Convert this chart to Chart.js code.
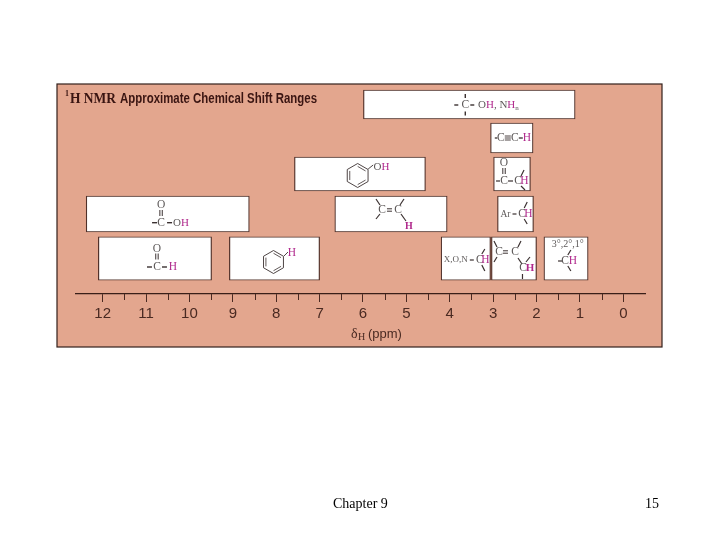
<!DOCTYPE html>
<html lang="en">
<head>
<meta charset="UTF-8" />
<title>1H NMR Approximate Chemical Shift Ranges</title>
<script src="https://cdn.jsdelivr.net/npm/chart.js@4.4.0/dist/chart.umd.min.js"></script>
<style>
  html, body { margin: 0; padding: 0; background: #fff; }
  canvas { display: block; }
</style>
</head>
<body>
<canvas id="nmr" width="720" height="540"></canvas>
<script>
// shift ranges in ppm, [high, low], one list per tier from the top of the plot
const tier1Ranges = [[5.99, 1.11]];
const tier2Ranges = [[3.06, 2.08]];
const tier3Ranges = [[7.58, 4.56], [2.99, 2.14]];
const tier4Ranges = [[12.38, 8.62], [6.65, 4.06], [2.9, 2.07]];
const tier5Ranges = [[12.1, 9.49], [9.08, 7.0], [4.2, 3.06], [3.04, 2.0], [1.83, 0.81]];

const tier1Groups = ["alcoholAmine"];
const tier2Groups = ["alkyne"];
const tier3Groups = ["phenol", "alphaCarbonyl"];
const tier4Groups = ["acid", "alkene", "benzylic"];
const tier5Groups = ["aldehyde", "aromatic", "heteroatom", "allylic", "alkyl"];

const tierLevels = [16.5, 50, 86, 126, 170.5];

const xTicks = [12, 11, 10, 9, 8, 7, 6, 5, 4, 3, 2, 1, 0];
const minorTicks = [11.5, 10.5, 9.5, 8.5, 7.5, 6.5, 5.5, 4.5, 3.5, 2.5, 1.5, 0.5];

const titleText = "Approximate Chemical Shift Ranges";
const footerLeft = "Chapter 9";
const footerRight = "15";

const PANEL = "#e3a68e";
const INK = "#4a2a22";
const BOND = "#3a3030";
const GREY = "#5c5858";
const PINK = "#b0288c";

const tierRanges = [tier1Ranges, tier2Ranges, tier3Ranges, tier4Ranges, tier5Ranges];
const tierGroups = [tier1Groups, tier2Groups, tier3Groups, tier4Groups, tier5Groups];
const tierThickness = [29, 30, 34, 36, 43.5];

const datasets = tierRanges.map((ranges, i) => ({
  data: ranges.map(r => ({ x: r, y: tierLevels[i] })),
  groups: tierGroups[i],
  backgroundColor: "#fff",
  borderColor: "#4f3029",
  borderWidth: 1.2,
  borderSkipped: false,
  barThickness: tierThickness[i],
  grouped: false,
}));

function line(ctx, x1, y1, x2, y2, w) {
  ctx.strokeStyle = BOND;
  ctx.lineWidth = w || 1;
  ctx.beginPath();
  ctx.moveTo(x1, y1);
  ctx.lineTo(x2, y2);
  ctx.stroke();
}

function text(ctx, s, x, y, color, size, bold) {
  ctx.font = (bold ? "bold " : "") + (size || 11.5) + 'px "Liberation Serif"';
  ctx.fillStyle = color || GREY;
  ctx.textAlign = "center";
  ctx.textBaseline = "middle";
  ctx.fillText(s, x, y);
}

// left aligned run of [text, color] pieces, returns the end x
function run(ctx, pieces, x, y, size) {
  ctx.font = (size || 11) + 'px "Liberation Serif"';
  ctx.textAlign = "left";
  ctx.textBaseline = "middle";
  pieces.forEach(p => {
    ctx.fillStyle = p[1];
    ctx.fillText(p[0], x, y);
    x += ctx.measureText(p[0]).width;
  });
  return x;
}

function ring(ctx, cx, cy, r) {
  const pts = [];
  for (let i = 0; i < 6; i++) {
    const a = -Math.PI / 2 + i * Math.PI / 3;
    pts.push([cx + r * Math.cos(a), cy + r * Math.sin(a)]);
  }
  for (let i = 0; i < 6; i++) {
    const p = pts[i], q = pts[(i + 1) % 6];
    line(ctx, p[0], p[1], q[0], q[1], 0.9);
    if (i % 2 === 0) {
      // inner double bond
      const k = 0.76;
      line(ctx, cx + (p[0] - cx) * k, cy + (p[1] - cy) * k, cx + (q[0] - cx) * k, cy + (q[1] - cy) * k, 0.8);
    }
  }
}

function dbl(ctx, x, y1, y2) {
  line(ctx, x - 1.2, y1, x - 1.2, y2, 1);
  line(ctx, x + 1.2, y1, x + 1.2, y2, 1);
}

const structures = {
  alcoholAmine(c) {
    line(c, -4, -10.5, -4, -6.5, 1.4);
    line(c, -4, 7, -4, 11, 1.4);
    line(c, -15, 0.5, -11, 0.5, 1.4);
    line(c, 1, 0.5, 5, 0.5, 1.4);
    text(c, "C", -4, 0.5);
    const end = run(c, [["O", GREY], ["H", PINK], [", N", GREY], ["H", PINK]], 8.7, 0.5);
    run(c, [["n", GREY]], end, 3.5, 7);
  },
  alkyne(c) {
    line(c, -17, 0, -14.5, 0, 1.3);
    text(c, "C", -11, 0);
    line(c, -7, -2, -1, -2, 0.9);
    line(c, -7, 0, -1, 0, 0.9);
    line(c, -7, 2, -1, 2, 0.9);
    text(c, "C", 3, 0);
    line(c, 7, 0, 11, 0, 1.3);
    text(c, "H", 15, 0, PINK);
  },
  phenol(c) {
    ring(c, -2.3, 1.5, 12);
    line(c, 8.2, -5, 13.2, -9, 0.9);
    run(c, [["O", GREY], ["H", PINK]], 13.5, -7);
  },
  alphaCarbonyl(c) {
    text(c, "O", -8, -11);
    dbl(c, -8, -6, 0);
    text(c, "C", -8, 7);
    line(c, -16, 7, -12, 7, 1.2);
    line(c, -4, 7, 1, 7, 1.2);
    text(c, "C", 6, 7);
    text(c, "H", 12.5, 7, PINK);
    line(c, 9, 2, 12, -4, 1.2);
    line(c, 9, 12, 13, 16, 1.2);
  },
  acid(c) {
    text(c, "O", -6.7, -9);
    dbl(c, -6.7, -4, 2);
    text(c, "C", -6.7, 8.7);
    line(c, -15.7, 8.7, -10.7, 8.7, 1.4);
    line(c, -0.7, 8.7, 4.3, 8.7, 1.4);
    run(c, [["O", GREY], ["H", PINK]], 5.3, 8.7);
  },
  alkene(c) {
    text(c, "C", -9, -4);
    line(c, -4, -5.2, 1, -5.2, 1);
    line(c, -4, -2.8, 1, -2.8, 1);
    text(c, "C", 7, -4);
    line(c, -15, -15, -11, -9, 1.2);
    line(c, -15, 5, -11, 0, 1.2);
    line(c, 13, -15, 9, -9, 1.2);
    line(c, 10, 0, 15, 7, 1.2);
    text(c, "H", 18, 12, PINK, 10, true);
  },
  benzylic(c) {
    text(c, "Ar", -10, 0, GREY, 9.5);
    line(c, -3, 0, 1, 0, 1.2);
    text(c, "C", 6.7, 0);
    text(c, "H", 13, 0, PINK);
    line(c, 8.7, -6, 11.7, -12, 1.2);
    line(c, 8.7, 5, 11.7, 10, 1.2);
  },
  aldehyde(c) {
    text(c, "O", 2, -9.5);
    dbl(c, 2, -5, 1);
    text(c, "C", 2, 8.5);
    line(c, -8, 8.5, -3, 8.5, 1.4);
    line(c, 7, 8.5, 12, 8.5, 1.4);
    text(c, "H", 18, 8.5, PINK);
  },
  aromatic(c) {
    ring(c, -1, 3.5, 11.5);
    line(c, 9.5, -2.5, 13.5, -6.5, 0.9);
    text(c, "H", 17.5, -5.5, PINK);
  },
  heteroatom(c) {
    run(c, [["X,O,N", GREY]], -22, 1.5, 9);
    line(c, 4, 1.5, 8, 1.5, 1.2);
    text(c, "C", 14, 1.5);
    text(c, "H", 19.5, 1.5, PINK);
    line(c, 16, -4.5, 19, -9.5, 1.2);
    line(c, 16, 6.5, 19, 12.5, 1.2);
  },
  allylic(c) {
    text(c, "C", -15, -6.5);
    line(c, -11, -7.7, -6, -7.7, 1);
    line(c, -11, -5.3, -6, -5.3, 1);
    text(c, "C", 1, -6.5);
    line(c, -20, -17.5, -17, -11.5, 1.2);
    line(c, -20, 3.5, -17, -1.5, 1.2);
    line(c, 7, -17.5, 4, -11.5, 1.2);
    line(c, 4, -0.5, 8, 5.5, 1.2);
    line(c, 16, -1.5, 12, 3.5, 1.2);
    text(c, "C", 9, 9.5);
    text(c, "H", 16, 9.5, PINK, 11, true);
    line(c, 8.5, 15.5, 8.5, 20.5, 1.2);
  },
  alkyl(c) {
    text(c, "3°,2°,1°", 1.8, -14.5, GREY, 10);
    line(c, -8, 2.5, -4, 2.5, 1.2);
    text(c, "C", -1, 2.5);
    text(c, "H", 6.8, 2.5, PINK);
    line(c, 1.8, -3.5, 4.8, -8.5, 1.2);
    line(c, 1.8, 7.5, 4.8, 12.5, 1.2);
  },
};

const slidePlugin = {
  id: "slide",
  beforeDraw(chart) {
    const c = chart.ctx;
    c.save();
    c.fillStyle = "#fff";
    c.fillRect(0, 0, chart.width, chart.height);
    c.fillStyle = PANEL;
    c.fillRect(57, 84, 605, 263);
    c.strokeStyle = "#33201c";
    c.lineWidth = 1.2;
    c.strokeRect(57, 84, 605, 263);
    c.restore();
  },
  afterDraw(chart) {
    const c = chart.ctx;
    const sx = chart.scales.x;
    const bottom = chart.chartArea.bottom;
    c.save();

    // half ppm ticks are shorter than the labelled ones
    minorTicks.forEach(v => {
      const px = Math.round(sx.getPixelForValue(v)) + 0.5;
      c.strokeStyle = INK;
      c.lineWidth = 1;
      c.beginPath();
      c.moveTo(px, bottom);
      c.lineTo(px, bottom + 6);
      c.stroke();
    });

    // formulas inside the range boxes
    chart.data.datasets.forEach((ds, i) => {
      chart.getDatasetMeta(i).data.forEach((el, j) => {
        c.save();
        c.translate((el.x + el.base) / 2, el.y);
        structures[ds.groups[j]](c);
        c.restore();
      });
    });

    // heading
    c.textAlign = "left";
    c.textBaseline = "alphabetic";
    c.fillStyle = "#3a1512";
    c.font = 'bold 8px "Liberation Serif"';
    c.fillText("1", 65, 96);
    c.font = 'bold 14px "Liberation Serif"';
    c.fillText("H NMR", 70, 103, 46);
    c.font = 'bold 14px "Liberation Sans"';
    c.fillText(titleText, 120, 103, 197);

    // axis title
    c.fillStyle = INK;
    c.font = '14px "Liberation Serif"';
    c.fillText("δ", 351, 338);
    c.font = '10px "Liberation Serif"';
    c.fillText("H", 358, 340);
    c.font = '13px "Liberation Sans"';
    c.fillText("(ppm)", 368, 338);

    // slide footer
    c.fillStyle = "#000";
    c.font = '14px "Liberation Serif"';
    c.fillText(footerLeft, 333, 508);
    c.fillText(footerRight, 645, 508);
    c.restore();
  },
};

new Chart(document.getElementById("nmr"), {
  type: "bar",
  data: { datasets },
  plugins: [slidePlugin],
  options: {
    indexAxis: "y",
    responsive: false,
    animation: false,
    layout: { padding: { left: 76, right: 75, top: 88, bottom: 0 } },
    plugins: { legend: { display: false }, title: { display: false }, tooltip: { enabled: false } },
    scales: {
      x: {
        type: "linear",
        reverse: true,
        min: -0.5,
        max: 12.615,
        afterBuildTicks(axis) {
          axis.ticks = xTicks.map(v => ({ value: v }));
        },
        afterFit(axis) {
          axis.height = 246;
        },
        border: { display: true, color: "#3a1f18", width: 1.2 },
        grid: { drawOnChartArea: false, drawTicks: true, tickLength: 8, tickColor: INK, tickWidth: 1 },
        ticks: {
          padding: 3,
          maxRotation: 0,
          autoSkip: false,
          color: INK,
          font: { family: '"Liberation Sans"', size: 15 },
        },
      },
      y: {
        type: "linear",
        reverse: true,
        display: false,
        min: 0,
        max: 206,
        offset: false,
      },
    },
  },
});
</script>
</body>
</html>
